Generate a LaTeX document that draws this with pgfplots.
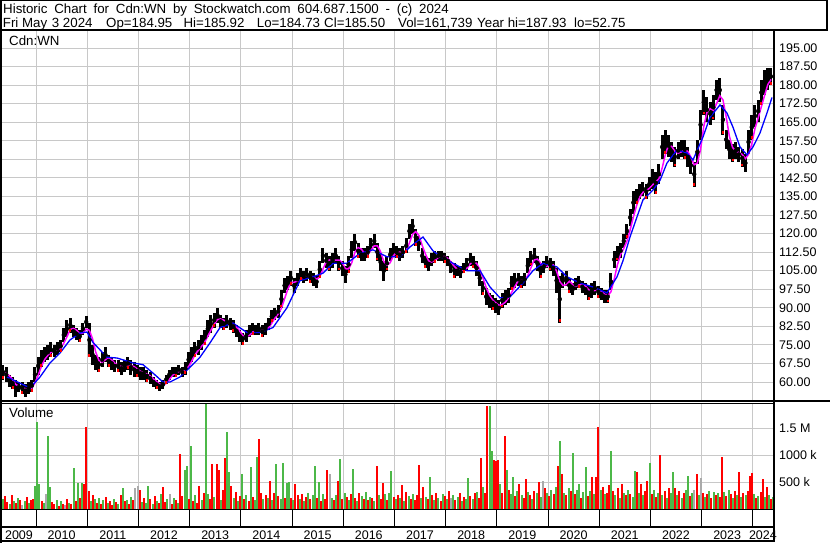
\documentclass[border=0pt]{standalone}
\usepackage{fontspec}
\setmainfont{Liberation Sans}
\usepackage{pgfplots}
\usepackage{pgfplotstable}
\pgfplotsset{compat=1.18}
\definecolor{gridc}{RGB}{200,200,200}
\definecolor{volg}{RGB}{76,184,72}
\definecolor{volr}{RGB}{255,0,0}
\definecolor{volgr}{RGB}{170,170,170}
\definecolor{magc}{RGB}{255,0,255}
\definecolor{bluc}{RGB}{0,0,255}
\newcommand\sw{\fontsize{13.3}{15}\selectfont}
\newcommand\tk{\fontsize{12.5}{14}\selectfont}

\pgfplotstableread{
lo hi m
61 67 64
60 66 63.5
58 63 62.5
57 62 61
54 61 59
56 60 58.3
55 60 57.7
54 59 57.3
55 60 57.2
56 61 57.5
60 66 59.7
63 70 62.7
66 73 66.3
68 74 69
69 75 70.8
70 76 72
70 75 72.5
71 76 73
72 77 73.5
76 82 75.7
78 85 78.3
80 86 81.2
78 83 81.7
77 82 81
76 81 79.5
79 84 79.8
82 86.5 81.4
70 84 80.9
67 75 77.4
65 71 72
64 70 68.7
66 72 68
68 74 69
66 71 69.5
65 70 69
64 69 67.5
64 69 66.8
63 68 66.2
64 69 66.2
65 70 66.5
63 69 66.7
62 68 66.2
62 67 65.2
61 66 64.3
61 66 63.8
60 65 63.2
59 64 62.5
58 62 61.3
57 61 60.2
56.5 60 59.1
57 61 58.8
59 63 59.4
61 65 61
62 66 62.7
62 66 63.7
63 67 64.3
62 66 64.3
63 68 64.8
66 72 66.2
68 74 68.5
70 76 71
71 77 72.7
73 79 74.3
75 81 76
78 85 78.5
80 87 81
82 88 83.3
84 90 85.2
82 87 85.5
81 86 85
82 87 84.2
81 86 83.8
80 85 83.5
78 83 82.2
76 81 80.5
75 80 78.8
76 81 78.2
78 83 78.8
79 84 80.2
79 83 81
79 84 81.3
78 83 81
79 84 81.2
81 86 81.8
84 89 83.8
85 90 85.8
86 91 87.5
90 97 89.8
96 102 93.7
97 103 97.5
99 105 100.3
96 102 100.3
99 104 100.8
101 106 101.3
100 105 102.5
101 106 103.2
100 105 102.8
99 104 102.5
98 103 101.5
102 109 102.5
108 114 105.7
106 112 108.5
105 111 109.3
106 112 108.7
108 114 109.3
105 111 109.3
103 109 108.3
100 107 105.8
104 111 105.7
110 117 108.2
113 120 112.5
110 116 114.3
109 114 113.7
109 114 112
110 115 111.8
113 118 113.2
114 120 115
109 116 115
105 112 112.7
101 109 108.7
105 111 107.2
109 114 108.2
111 116 111
110 115 112.5
109 114 112.5
110 115 112.2
112 118 113
118 124 116.2
120 126 119.7
115 122 120.8
113 119 119.2
108 114 115.2
106 111 111.8
105 110 109
107 112 108.5
108 113 109.2
109 113 110.3
109 113 110.8
108 112 110.7
107 111 110
104 109 108.5
102 108 106.8
103 107 105.5
102 107 104.8
104 108 105.2
105 110 106
107 112 107.7
106 111 108.5
103 109 108
99 105 105.5
95 101 102
91 98 98.2
90 96 95.2
89 95 93.2
88 94 92
87 93 91
90 96 91.3
91 97 92.3
92 98 94
97 103 96.3
98 104 98.7
99 104 100.8
98 103 101
99 104 101.2
104 110 103
107 113 106.2
108 114 109.3
105 111 109.7
102 108 108
104 109 106.5
106 111 106.7
105 110 107.5
103 109 107.3
96 106 104.8
84 103 100.7
98 104 99
99 105 99.3
96 102 100.7
95 100 99.5
97 102 98.7
98 103 99.2
96 101 99.5
95 100 98.8
93 99 97.3
94 100 96.8
95 101 97
94 99 97.2
93 98 96.7
92 97 95.5
92 97 94.8
97 104 96.5
106 113 101.5
109 115 107.3
110 116 111.5
114 120 114
118 124 117
123 130 121.5
128 137 126.7
132 138 131.3
134 140 134.8
135 141 136.7
134 140 137.3
137 143 138.3
138 146 139.7
136 145 140.8
140 148 142.2
150 160 146.5
152 162 152
151 160 155.8
149 157 155.2
147 155 153.2
150 157 152.5
151 158 153
150 158 154
147 155 153.2
144 151 150.8
139 149 147.8
148 158 148.5
158 170 154
168 178 163.3
165 175 169
164 173 170.5
166 176 169.8
174 182 172.5
173 183 175.7
160 172 174
154 162 167.3
150 158 159.3
149 156 154.8
150 157 153.3
149 155 152.7
147 154 152
145 152 150.3
152 162 152
158 168 156.2
163 172 162.5
165 174 166.7
172 182 171.3
176 186 175.8
178 187 180.2
180 187 182.3
}\pricetab

\pgfplotstableread[row sep=\\]{
v c\\
180 1\\ 240 2\\ 130 2\\ 90 1\\ 260 2\\ 150 1\\ 110 2\\ 200 1\\ 170 2\\ 70 3\\ 140 1\\ 230 2\\
120 1\\ 160 2\\ 190 2\\ 430 1\\ 1620 1\\ 470 1\\ 150 2\\ 110 1\\ 270 3\\ 1350 1\\ 400 1\\ 130 2\\
90 2\\ 170 1\\ 60 2\\ 140 1\\ 100 2\\ 80 3\\ 180 2\\ 120 1\\ 90 2\\ 750 1\\ 150 2\\ 480 1\\
200 2\\ 480 1\\ 470 2\\ 1520 2\\ 330 2\\ 140 1\\ 260 2\\ 180 1\\ 120 2\\ 210 1\\ 90 2\\ 160 1\\
230 2\\ 110 1\\ 150 2\\ 80 2\\ 190 1\\ 130 2\\ 100 1\\ 250 2\\ 380 1\\ 140 2\\ 170 1\\ 90 2\\
220 1\\ 160 2\\ 390 3\\ 420 3\\ 360 2\\ 130 1\\ 200 2\\ 110 1\\ 420 1\\ 180 2\\ 90 1\\ 240 2\\
150 1\\ 110 2\\ 270 1\\ 400 2\\ 130 2\\ 190 1\\ 280 3\\ 90 2\\ 210 1\\ 160 2\\ 120 1\\ 1020 2\\
240 2\\ 730 1\\ 800 1\\ 180 2\\ 1170 1\\ 140 2\\ 250 1\\ 110 2\\ 420 2\\ 170 1\\ 300 2\\ 1940 1\\
280 1\\ 190 2\\ 840 2\\ 230 1\\ 840 2\\ 730 2\\ 160 1\\ 350 2\\ 950 2\\ 1420 1\\ 680 1\\ 420 2\\
200 1\\ 310 2\\ 150 1\\ 240 2\\ 650 1\\ 180 2\\ 260 1\\ 140 2\\ 780 1\\ 220 2\\ 170 1\\ 960 1\\
1290 2\\ 300 2\\ 180 1\\ 250 2\\ 200 1\\ 520 2\\ 160 1\\ 290 2\\ 830 1\\ 240 2\\ 180 1\\ 850 1\\
200 2\\ 480 1\\ 500 1\\ 210 2\\ 160 1\\ 470 2\\ 250 2\\ 190 1\\ 280 2\\ 150 1\\ 230 2\\ 300 1\\
180 2\\ 260 1\\ 790 1\\ 200 2\\ 500 1\\ 150 2\\ 270 1\\ 190 2\\ 720 2\\ 650 3\\ 210 1\\ 160 2\\
250 1\\ 520 2\\ 920 1\\ 180 2\\ 300 1\\ 220 2\\ 160 1\\ 270 2\\ 740 1\\ 200 2\\ 150 1\\ 290 2\\
240 1\\ 180 2\\ 310 1\\ 160 2\\ 230 1\\ 200 2\\ 140 1\\ 800 2\\ 250 1\\ 190 2\\ 480 2\\ 270 1\\
170 2\\ 300 1\\ 700 1\\ 220 2\\ 180 1\\ 260 2\\ 200 1\\ 450 2\\ 150 1\\ 310 2\\ 240 1\\ 190 2\\
280 1\\ 170 2\\ 260 2\\ 820 2\\ 200 1\\ 400 2\\ 230 1\\ 180 2\\ 600 1\\ 250 2\\ 160 1\\ 290 2\\
200 1\\ 150 2\\ 280 1\\ 240 2\\ 180 1\\ 330 2\\ 200 3\\ 260 1\\ 170 2\\ 230 1\\ 300 2\\ 150 1\\
220 2\\ 190 1\\ 570 1\\ 240 2\\ 180 1\\ 290 2\\ 320 1\\ 200 2\\ 950 2\\ 400 1\\ 300 2\\ 1900 2\\
1900 1\\ 1070 1\\ 900 2\\ 880 2\\ 900 2\\ 470 1\\ 300 2\\ 1350 2\\ 720 1\\ 350 2\\ 280 1\\ 600 1\\
240 2\\ 330 1\\ 470 2\\ 260 1\\ 200 2\\ 560 2\\ 310 1\\ 250 2\\ 180 1\\ 340 2\\ 290 1\\ 500 2\\
220 1\\ 520 3\\ 380 2\\ 300 1\\ 240 2\\ 350 1\\ 280 2\\ 410 1\\ 800 2\\ 1250 1\\ 650 2\\ 300 1\\
250 2\\ 380 1\\ 330 2\\ 1040 1\\ 280 2\\ 350 1\\ 470 1\\ 200 2\\ 310 1\\ 780 1\\ 240 2\\ 330 1\\
600 2\\ 280 1\\ 600 2\\ 1520 2\\ 350 1\\ 400 2\\ 270 1\\ 300 2\\ 450 2\\ 1070 1\\ 330 2\\ 250 1\\
380 2\\ 200 1\\ 470 2\\ 300 1\\ 260 2\\ 350 1\\ 280 2\\ 230 1\\ 710 1\\ 680 2\\ 300 1\\ 460 2\\
250 1\\ 330 2\\ 520 2\\ 850 1\\ 280 2\\ 360 1\\ 220 2\\ 300 1\\ 1000 2\\ 260 1\\ 330 2\\ 210 1\\
380 2\\ 290 1\\ 690 1\\ 380 2\\ 250 1\\ 330 2\\ 200 1\\ 290 2\\ 360 1\\ 620 1\\ 240 2\\ 300 1\\
350 3\\ 640 2\\ 260 1\\ 570 3\\ 300 2\\ 220 1\\ 280 2\\ 340 1\\ 200 2\\ 310 1\\ 250 2\\ 290 1\\
230 2\\ 970 2\\ 310 1\\ 240 2\\ 350 1\\ 280 2\\ 200 1\\ 330 2\\ 260 1\\ 690 2\\ 220 1\\ 300 2\\
250 1\\ 330 2\\ 620 2\\ 660 2\\ 280 1\\ 200 2\\ 240 1\\ 310 2\\ 550 2\\ 230 1\\ 410 2\\ 260 1\\
190 2\\ 220 1\\
}\voltab

\begin{document}
\begin{tikzpicture}
\useasboundingbox (0pt,0pt) rectangle (830pt,543pt);

% ---------- price panel ----------
\begin{axis}[at={(2pt,142pt)}, anchor=south west, scale only axis,
  width=771pt, height=370pt,
  xmin=2009.336, xmax=2024.395, ymin=52.32, ymax=201.87,
  axis line style={draw=none}, tick style={draw=none},
  xtick={2010,2011,2012,2013,2014,2015,2016,2017,2018,2019,2020,2021,2022,2023,2024},
  xticklabels={},
  ytick={60,67.5,75,82.5,90,97.5,105,112.5,120,127.5,135,142.5,150,157.5,165,172.5,180,187.5,195},
  yticklabel pos=right,
  yticklabel style={font=\tk, anchor=west, inner sep=0pt, xshift=6pt,
    /pgf/number format/fixed, /pgf/number format/fixed zerofill,
    /pgf/number format/precision=2, /pgf/number format/assume math mode=true},
  scaled y ticks=false,
  xmajorgrids, ymajorgrids,
  major grid style={gridc, line width=0.9pt},
]
\addplot[only marks, mark=none, forget plot,
  error bars/.cd, y dir=both, y explicit, error mark=none,
  error bar style={black, line width=3pt}]
  table[x expr=2009.3555+\coordindex/16,
        y expr=(\thisrow{lo}+\thisrow{hi})/2,
        y error expr=(\thisrow{hi}-\thisrow{lo})/2]{\pricetab};
\addplot[only marks, mark=|, mark size=1.4pt, volr, line width=2pt, each nth point=3, filter discard warning=false]
  table[x expr=2009.3555+\coordindex/16, y expr=\thisrow{lo}+0.7]{\pricetab};
\addplot[magc, line width=1.5pt, mark=none]
  table[x expr=2009.3555+\coordindex/16, y=m]{\pricetab};
\addplot[bluc, line width=1.3pt, mark=none] coordinates {
(2009.434,62) (2009.69,59.5) (2009.883,57.6) (2010.078,62) (2010.273,67.7) (2010.469,71.7)
(2010.664,77) (2010.859,79.8) (2010.996,80.2) (2011.113,76) (2011.25,73) (2011.387,70)
(2011.582,69.7) (2011.895,67.7) (2012.09,67) (2012.285,63.6) (2012.48,60) (2012.617,60)
(2012.81,62) (2013.008,66) (2013.203,70) (2013.398,75.8) (2013.594,82) (2013.848,83.8)
(2014.121,80) (2014.375,80) (2014.629,82) (2014.902,90) (2015.156,101) (2015.41,102.5)
(2015.605,104) (2015.80,108) (2016.074,108) (2016.328,112) (2016.582,113.4) (2016.855,110.6)
(2017.109,110.6) (2017.305,114.6) (2017.559,118.6) (2017.754,113) (2017.949,110) (2018.145,108)
(2018.418,105) (2018.672,105) (2018.867,98.4) (2019.0625,94) (2019.258,94.4) (2019.512,100)
(2019.707,105) (2019.902,108) (2020.176,106.5) (2020.371,102.5) (2020.625,100) (2020.879,98.4)
(2021.152,96) (2021.348,102.5) (2021.465,109) (2021.602,118.6) (2021.738,126.7) (2021.855,133.6)
(2022.051,137.6) (2022.19,141.6) (2022.324,148.5) (2022.52,153.8) (2022.715,152.6) (2022.832,149.7)
(2023.027,159) (2023.164,167) (2023.36,172) (2023.496,168.7) (2023.613,163) (2023.75,155)
(2023.887,151.8) (2024.004,155) (2024.14,160.6) (2024.277,168.7) (2024.375,175)
};
\end{axis}

% ---------- volume panel ----------
\begin{axis}[at={(2pt,34pt)}, anchor=south west, scale only axis,
  width=771pt, height=106pt,
  xmin=2009.336, xmax=2024.395, ymin=0, ymax=1.963,
  axis line style={draw=none}, tick style={draw=none},
  xtick={2009.668,2010.5,2011.5,2012.5,2013.5,2014.5,2015.5,2016.5,2017.5,2018.5,2019.5,2020.5,2021.5,2022.5,2023.5,2024.198},
  xticklabels={2009,2010,2011,2012,2013,2014,2015,2016,2017,2018,2019,2020,2021,2022,2023,2024},
  xticklabel style={font=\tk, anchor=center, yshift=-26pt},
  minor xtick={2010,2011,2012,2013,2014,2015,2016,2017,2018,2019,2020,2021,2022,2023,2024},
  xminorgrids=true, xmajorgrids=false, ymajorgrids=true,
  minor grid style={gridc, line width=0.9pt},
  major grid style={gridc, line width=0.9pt},
  ytick={0.5,1,1.5}, yticklabels={500 k,1000 k,1.5 M},
  yticklabel pos=right,
  yticklabel style={font=\tk, anchor=west, inner sep=0pt, xshift=6pt},
]
\addplot[ycomb, volg, line width=2pt, mark=none, restrict expr to domain={\thisrow{c}}{1:1}]
  table[x expr=2009.36+\coordindex/24, y expr=\thisrow{v}/1000]{\voltab};
\addplot[ycomb, volr, line width=2pt, mark=none, restrict expr to domain={\thisrow{c}}{2:2}]
  table[x expr=2009.36+\coordindex/24, y expr=\thisrow{v}/1000]{\voltab};
\addplot[ycomb, volgr, line width=2pt, mark=none, restrict expr to domain={\thisrow{c}}{3:3}]
  table[x expr=2009.36+\coordindex/24, y expr=\thisrow{v}/1000]{\voltab};
\end{axis}

% ---------- date box row ----------
\begin{axis}[at={(2pt,16pt)}, anchor=south west, scale only axis,
  width=771pt, height=18pt,
  xmin=2009.336, xmax=2024.395, ymin=0, ymax=1,
  axis line style={draw=none}, tick style={draw=none},
  xtick={2010,2011,2012,2013,2014,2015,2016,2017,2018,2019,2020,2021,2022,2023,2024},
  xticklabels={}, ytick=\empty,
  xmajorgrids, major grid style={black, line width=0.9pt},
]
\addplot[draw=none, mark=none, forget plot] coordinates {(2010,0.5)};
\end{axis}

\begin{scope}[x=1pt,y=1pt, every node/.style={anchor=base west, font=\sw, inner sep=0pt}]
% ---------- texts ----------
\node at (3,529.7) {\spaceskip=6.8pt plus 0pt minus 0pt Historic Chart for Cdn:WN by Stockwatch.com 604.687.1500 - (c) 2024};
\node at (2.7,515.7) {Fri May};
\node at (51.7,515.7) {3 2024};
\node at (106,515.7) {Op=184.95};
\node at (183.3,515.7) {Hi=185.92};
\node at (256.7,515.7) {Lo=184.73};
\node at (324,515.7) {Cl=185.50};
\node at (398,515.7) {Vol=161,739};
\node at (477,515.7) {Year hi=187.93};
\node at (574,515.7) {lo=52.75};
\node at (9,497) {Cdn:WN};
\node at (9,125.3) {Volume};

% ---------- frame ----------
\draw[line width=2pt] (1,0) -- (1,543);
\draw[line width=1pt] (0,542.5) -- (828,542.5);
\draw[line width=2pt] (0,512.5) -- (828,512.5);
\draw[line width=2pt] (827,512.5) -- (827,543);
\draw[line width=2.5pt] (774,512) -- (774,0.5);
\draw[line width=1.2pt] (0,142) -- (830,142);
\draw[line width=1.2pt] (0,139.3) -- (774,139.3);
\draw[line width=1.5pt] (0,33.5) -- (774,33.5);
\draw[line width=2pt] (0,16) -- (774,16);
\draw[line width=2pt] (0,1.5) -- (774,1.5);
\end{scope}
\end{tikzpicture}
\end{document}
